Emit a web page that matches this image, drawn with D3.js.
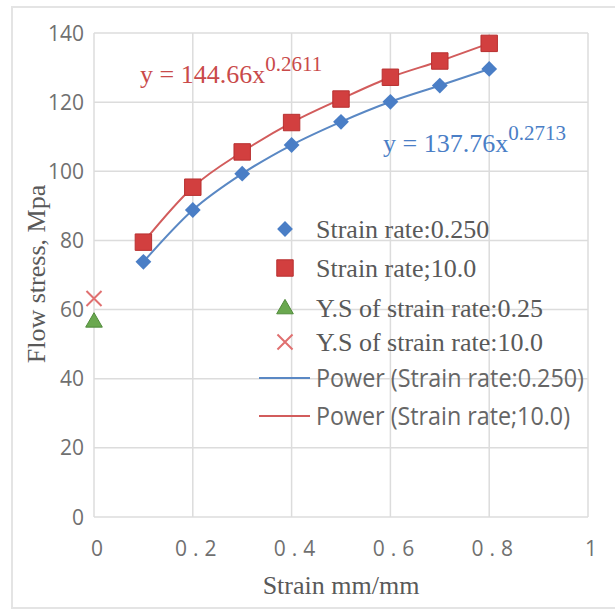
<!DOCTYPE html>
<html>
<head>
<meta charset="utf-8">
<script src="https://cdn.jsdelivr.net/npm/d3@7"></script>
<style>
  html, body { margin: 0; padding: 0; background: #fff; }
  svg { display: block; }
</style>
</head>
<body>
<svg id="chart" width="615" height="614"></svg>
<script>
// Flow stress vs strain, two strain rates with power trendlines

const strain = [0.1, 0.2, 0.3, 0.4, 0.5, 0.6, 0.7, 0.8];
const stressLow = [73.8, 88.8, 99.3, 107.6, 114.3, 120.1, 124.8, 129.6];   // strain rate 0.250
const stressHigh = [79.5, 95.4, 105.6, 114.1, 120.9, 127.2, 131.9, 137.0]; // strain rate 10.0
const ysLow = [{ x: 0, y: 56.6 }];   // Y.S of strain rate 0.25
const ysHigh = [{ x: 0, y: 63.2 }];  // Y.S of strain rate 10.0

const xTicks = [0, 0.2, 0.4, 0.6, 0.8, 1];
const xTickLabels = ['0', '0.2', '0.4', '0.6', '0.8', '1'];
const yTicks = [0, 20, 40, 60, 80, 100, 120, 140];

const legendItems = [
    { label: 'Strain rate:0.250', kind: 'diamond' },
    { label: 'Strain rate;10.0', kind: 'square' },
    { label: 'Y.S of strain rate:0.25', kind: 'triangle' },
    { label: 'Y.S of strain rate:10.0', kind: 'times' },
    { label: 'Power (Strain rate:0.250)', kind: 'lineBlue' },
    { label: 'Power (Strain rate;10.0)', kind: 'lineRed' }
];

const BLUE = '#4a7ec6';
const BLUE_LINE = '#5a88c4';
const RED = '#d23f3f';
const RED_LINE = '#d25c5c';
const GREEN = '#6aa84f';
const PINK = '#e07070';
const GRID = '#dcdcdc';
const SERIF = '"Liberation Serif", "Times New Roman", serif';
const SANS = '"Open Sans", "Liberation Sans", sans-serif';

const svg = d3.select('#chart');

// outer chart frame
svg.append('rect')
    .attr('x', 12).attr('y', 7)
    .attr('width', 640).attr('height', 601)
    .attr('fill', '#fff')
    .attr('stroke', '#e4e4e4')
    .attr('stroke-width', 2);

const x = d3.scaleLinear().domain([0, 1]).range([94, 588]);
const y = d3.scaleLinear().domain([0, 140]).range([517, 33]);

// gridlines
svg.append('g').selectAll('line.h')
    .data(yTicks).enter().append('line')
    .attr('x1', x(0)).attr('x2', x(1))
    .attr('y1', d => y(d)).attr('y2', d => y(d))
    .attr('stroke', GRID).attr('stroke-width', 1.5);

svg.append('g').selectAll('line.v')
    .data(xTicks).enter().append('line')
    .attr('x1', d => x(d)).attr('x2', d => x(d))
    .attr('y1', y(0)).attr('y2', y(140))
    .attr('stroke', GRID).attr('stroke-width', 1.5);

// y tick labels
svg.append('g').selectAll('text')
    .data(yTicks).enter().append('text')
    .attr('x', 84)
    .attr('y', d => y(d))
    .attr('dy', '0.36em')
    .attr('text-anchor', 'end')
    .attr('font-family', SANS)
    .attr('font-size', 21)
    .attr('fill', '#707070')
    .text(d => d);

// x tick labels
svg.append('g').selectAll('text')
    .data(xTicks).enter().append('text')
    .attr('x', d => x(d) + 6)
    .attr('y', 556)
    .attr('text-anchor', 'middle')
    .attr('font-family', SANS)
    .attr('font-size', 21)
    .attr('letter-spacing', 6)
    .attr('fill', '#707070')
    .text((d, i) => xTickLabels[i]);

// axis titles
svg.append('text')
    .attr('transform', 'translate(45, 274) rotate(-90)')
    .attr('text-anchor', 'middle')
    .attr('font-family', SERIF)
    .attr('font-size', 26)
    .attr('fill', '#595959')
    .text('Flow stress, Mpa');

svg.append('text')
    .attr('x', 341).attr('y', 594)
    .attr('text-anchor', 'middle')
    .attr('font-family', SERIF)
    .attr('font-size', 26)
    .attr('fill', '#595959')
    .text('Strain mm/mm');

// trendlines
const line = d3.line()
    .x(d => x(d[0]))
    .y(d => y(d[1]))
    .curve(d3.curveMonotoneX);

svg.append('path')
    .datum(strain.map((s, i) => [s, stressLow[i]]))
    .attr('d', line)
    .attr('fill', 'none')
    .attr('stroke', BLUE_LINE)
    .attr('stroke-width', 2);

svg.append('path')
    .datum(strain.map((s, i) => [s, stressHigh[i]]))
    .attr('d', line)
    .attr('fill', 'none')
    .attr('stroke', RED_LINE)
    .attr('stroke-width', 2);

// marker helpers
function drawMarker(g, kind, cx, cy) {
    if (kind === 'diamond') {
        g.append('path')
            .attr('d', d3.symbol(d3.symbolSquare, 125)())
            .attr('transform', `translate(${cx},${cy}) rotate(45)`)
            .attr('fill', BLUE);
    } else if (kind === 'square') {
        g.append('path')
            .attr('d', d3.symbol(d3.symbolSquare, 270)())
            .attr('transform', `translate(${cx},${cy})`)
            .attr('fill', RED)
            .attr('stroke', '#b83030')
            .attr('stroke-width', 1);
    } else if (kind === 'triangle') {
        g.append('path')
            .attr('d', d3.symbol(d3.symbolTriangle, 120)())
            .attr('transform', `translate(${cx},${cy + 1})`)
            .attr('fill', GREEN)
            .attr('stroke', '#4f8a3a')
            .attr('stroke-width', 1);
    } else if (kind === 'times') {
        g.append('path')
            .attr('d', d3.symbol(d3.symbolTimes, 150)())
            .attr('transform', `translate(${cx},${cy})`)
            .attr('fill', 'none')
            .attr('stroke', PINK)
            .attr('stroke-width', 2);
    } else if (kind === 'lineBlue' || kind === 'lineRed') {
        g.append('line')
            .attr('x1', cx - 26).attr('x2', cx + 25)
            .attr('y1', cy).attr('y2', cy)
            .attr('stroke', kind === 'lineBlue' ? BLUE_LINE : RED_LINE)
            .attr('stroke-width', 2);
    }
}

const markers = svg.append('g');
strain.forEach((s, i) => drawMarker(markers, 'diamond', x(s), y(stressLow[i])));
strain.forEach((s, i) => drawMarker(markers, 'square', x(s), y(stressHigh[i])));
ysLow.forEach(d => drawMarker(markers, 'triangle', x(d.x), y(d.y)));
ysHigh.forEach(d => drawMarker(markers, 'times', x(d.x), y(d.y)));

// trendline equations
function equation(tx, ty, base, expo, color) {
    const t = svg.append('text')
        .attr('x', tx).attr('y', ty)
        .attr('font-family', SERIF)
        .attr('font-size', 26)
        .attr('fill', color);
    t.append('tspan').text(base);
    t.append('tspan')
        .attr('dy', -12)
        .attr('font-size', 21)
        .text(expo);
}
equation(140, 83, 'y = 144.66x', '0.2611', '#c94a4a');
equation(383, 152, 'y = 137.76x', '0.2713', '#4a7ec6');

// legend
const legendY = [229, 268, 308, 342, 378, 416];
const legend = svg.append('g');
legendItems.forEach((item, i) => {
    const cy = legendY[i];
    drawMarker(legend, item.kind, 285, cy);
    const isLine = item.kind.startsWith('line');
    const t = legend.append('text')
        .attr('x', 316)
        .attr('y', cy)
        .attr('dy', '0.35em')
        .attr('font-family', isLine ? SANS : SERIF)
        .attr('font-size', isLine ? 25 : 26)
        .attr('fill', isLine ? '#666' : '#595959')
        .text(item.label);
    if (isLine) {
        t.attr('textLength', i === 4 ? 268 : 254)
         .attr('lengthAdjust', 'spacingAndGlyphs');
    }
});
</script>
</body>
</html>
